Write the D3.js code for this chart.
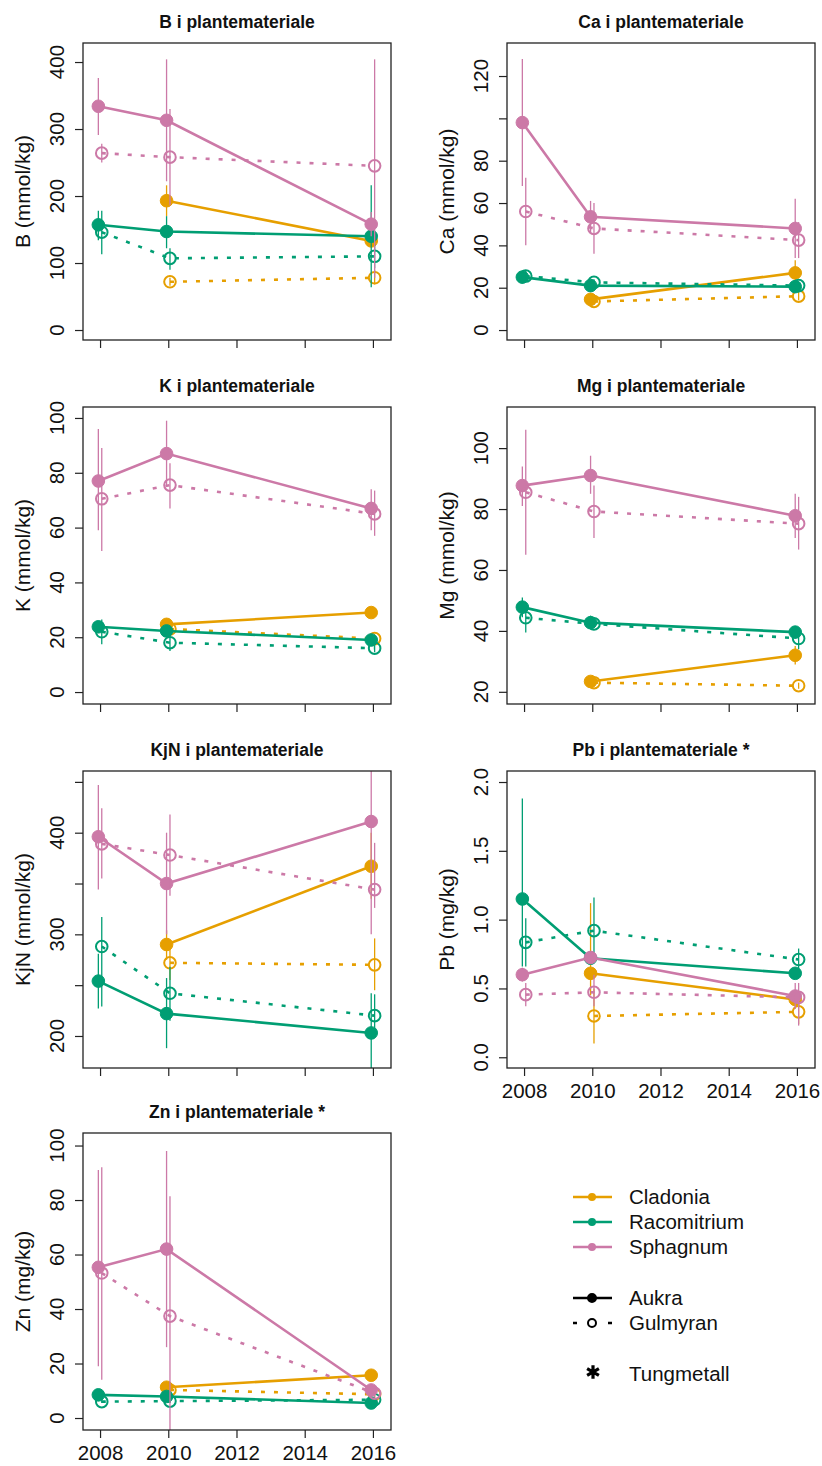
<!DOCTYPE html>
<html><head><meta charset="utf-8">
<script src="https://cdn.jsdelivr.net/npm/d3@7"></script>
<style>
body{margin:0;background:#fff;}
text{font-family:"Liberation Sans",Arial,sans-serif;fill:#111;}
</style>
</head><body>
<svg id="chart" width="822" height="1466"></svg>
<script>
// ---------------- DATA ----------------
const years = [2008, 2010, 2016];
const species = ["Cladonia", "Racomitrium", "Sphagnum"];
const sites = ["Aukra", "Gulmyran"];
const xTickValues = [2008, 2010, 2012, 2014, 2016];
const xTickLabels = ["2008", "2010", "2012", "2014", "2016"];

const panelTitles = ["B i plantemateriale", "Ca i plantemateriale", "K i plantemateriale",
  "Mg i plantemateriale", "KjN i plantemateriale", "Pb i plantemateriale *", "Zn i plantemateriale *"];
const yAxisTitles = ["B (mmol/kg)", "Ca (mmol/kg)", "K (mmol/kg)", "Mg (mmol/kg)",
  "KjN (mmol/kg)", "Pb (mg/kg)", "Zn (mg/kg)"];

const yTicks = [
  [0, 100, 200, 300, 400],
  [0, 20, 40, 60, 80, 100, 120],
  [0, 20, 40, 60, 80, 100],
  [20, 40, 60, 80, 100],
  [200, 250, 300, 350, 400, 450],
  [0, 0.5, 1, 1.5, 2],
  [0, 20, 40, 60, 80, 100]
];
const yTickLabels = [
  ["0", "100", "200", "300", "400"],
  ["0", "20", "40", "60", "80", "", "120"],
  ["0", "20", "40", "60", "80", "100"],
  ["20", "40", "60", "80", "100"],
  ["200", "", "300", "", "400", ""],
  ["0.0", "0.5", "1.0", "1.5", "2.0"],
  ["0", "20", "40", "60", "80", "100"]
];
const yLimits = [[-14.9, 428.4], [-4.7, 135.6], [-4.36, 104], [16, 113.5],
  [168.5, 460.7], [-0.078, 2.08], [-4.4, 104.6]];

// rows: Cladonia-Aukra, Cladonia-Gulmyran, Racomitrium-Aukra, Racomitrium-Gulmyran, Sphagnum-Aukra, Sphagnum-Gulmyran
const B_mean = [[null, 193, 133], [null, 72, 78], [157, 147, 140], [146, 107, 110], [334, 313, 158], [264, 258, 245]];
const B_lo   = [[null, 170, 125], [null, 66, 68], [134, 122, 64], [113, 90, 92], [291, 222, 140], [250, 186, 78]];
const B_hi   = [[null, 216, 141], [null, 78, 90], [178, 170, 216], [178, 122, 128], [376, 404, 176], [278, 330, 404]];

const Ca_mean = [[null, 14.5, 27], [null, 13.5, 16], [25, 21, 20.5], [25.5, 22.5, 21], [98, 53.5, 48], [56, 48, 42.5]];
const Ca_lo   = [[null, 12, 22], [null, 12, 14], [22, 19, 19], [23, 21, 19.5], [68, 46, 34], [40, 36, 34]];
const Ca_hi   = [[null, 17, 33], [null, 15, 18], [28, 23, 22], [28, 24, 22.5], [128, 61, 62], [72, 60, 51]];

const K_mean = [[null, 24.7, 29], [null, 23, 19.5], [23.8, 22.3, 19], [22, 18, 16], [77, 87, 67], [70.5, 75.5, 65]];
const K_lo   = [[null, 23, 28], [null, 21.5, 18], [21.5, 20.5, 17.5], [17.4, 15, 14.5], [59, 75, 59], [51.5, 67, 57]];
const K_hi   = [[null, 26, 30], [null, 24.5, 21], [26, 24, 20.5], [26.5, 21, 17.5], [96, 99, 74], [89, 83.5, 73.5]];

const Mg_mean = [[null, 23.4, 32], [null, 23, 22], [47.8, 42.7, 39.6], [44.3, 42.3, 37.5], [87.7, 91, 77.8], [85.5, 79.2, 75.2]];
const Mg_lo   = [[null, 21.5, 29], [null, 22, 21], [44.5, 40.5, 37.5], [39.5, 41, 34], [81, 85, 70.5], [65, 70.5, 66.7]];
const Mg_hi   = [[null, 25, 35], [null, 24, 23], [51, 45, 41.5], [47, 43.5, 40.5], [94, 97.5, 85], [106, 87.7, 84]];

const KjN_mean = [[null, 290, 367], [null, 272, 270], [254, 222, 203], [288, 242, 220], [396, 350, 411], [389, 378, 344]];
const KjN_lo   = [[null, 275, 335], [null, 255, 245], [227, 188, 165], [229, 215, 199], [344, 300, 300], [355, 338, 326]];
const KjN_hi   = [[null, 304, 400], [null, 289, 296], [281, 257, 242], [317, 268, 241], [447, 400, 522], [424, 418, 390]];

const Pb_mean = [[null, 0.61, 0.42], [null, 0.30, 0.33], [1.15, 0.72, 0.61], [0.835, 0.92, 0.71], [0.60, 0.725, 0.445], [0.455, 0.472, 0.435]];
const Pb_lo   = [[null, 0.45, 0.38], [null, 0.10, 0.24], [0.66, 0.68, 0.58], [0.66, 0.69, 0.63], [0.55, 0.68, 0.35], [0.37, 0.37, 0.23]];
const Pb_hi   = [[null, 1.12, 0.46], [null, 0.50, 0.42], [1.88, 0.76, 0.64], [1.01, 1.16, 0.79], [0.65, 0.77, 0.54], [0.54, 0.60, 0.54]];

const Zn_mean = [[null, 11.3, 15.7], [null, 10.3, 8.7], [8.5, 7.9, 5.5], [6, 6.2, 6.7], [55.3, 62, 10.3], [53.2, 37.4, 9.1]];
const Zn_lo   = [[null, 10, 14.5], [null, 9, 7.5], [7.5, 7, 4.8], [5.5, 5.5, 6], [19, 26, 8], [14, -6.6, 7.5]];
const Zn_hi   = [[null, 12.5, 17], [null, 11.5, 10], [9.5, 8.8, 6.2], [6.8, 7, 7.4], [91, 98, 12.5], [92, 81.4, 10.8]];

const panelMeans = [B_mean, Ca_mean, K_mean, Mg_mean, KjN_mean, Pb_mean, Zn_mean];
const panelLo = [B_lo, Ca_lo, K_lo, Mg_lo, KjN_lo, Pb_lo, Zn_lo];
const panelHi = [B_hi, Ca_hi, K_hi, Mg_hi, KjN_hi, Pb_hi, Zn_hi];
const panelXLabels = [false, false, false, false, false, true, true];

// ---------------- STYLE / LAYOUT ----------------
const speciesColors = ["#E69F00", "#009E73", "#CC79A7"];
const siteOffsets = [-0.05, 0.05];
const colLeft = [83, 507];
const rowTop = [43, 407, 771, 1133];
const boxW = 308, boxH = 297;
const xDomain = [2007.5, 2016.53];

const svg = d3.select("#chart");
const defs = svg.append("defs");

panelTitles.forEach((title, i) => {
  const col = i % 2, row = Math.floor(i / 2);
  const left = colLeft[col], top = rowTop[row];
  const x = d3.scaleLinear().domain(xDomain).range([left, left + boxW]);
  const y = d3.scaleLinear().domain(yLimits[i]).range([top + boxH, top]);
  const g = svg.append("g");

  defs.append("clipPath").attr("id", "clip" + i)
    .append("rect").attr("x", left).attr("y", top).attr("width", boxW).attr("height", boxH);

  // title
  g.append("text").attr("x", left + boxW / 2).attr("y", top - 15)
    .attr("text-anchor", "middle").attr("font-weight", "bold").attr("font-size", 17.5)
    .text(title);

  // y axis
  const yAx = g.append("g").attr("transform", `translate(${left},0)`)
    .call(d3.axisLeft(y).tickValues(yTicks[i]).tickSize(8).tickSizeOuter(0).tickFormat(""));
  yAx.select(".domain").remove();
  yAx.selectAll("line").attr("stroke", "#222").attr("stroke-width", 1.2);
  yTicks[i].forEach((t, k) => {
    g.append("text")
      .attr("transform", `translate(${left - 19},${y(t)}) rotate(-90)`)
      .attr("text-anchor", "middle").attr("font-size", 20.5)
      .text(yTickLabels[i][k]);
  });
  g.append("text")
    .attr("transform", `translate(${left - 53},${top + boxH / 2}) rotate(-90)`)
    .attr("text-anchor", "middle").attr("font-size", 21)
    .text(yAxisTitles[i]);

  // x axis
  const xAx = g.append("g").attr("transform", `translate(0,${top + boxH})`)
    .call(d3.axisBottom(x).tickValues(xTickValues).tickSize(8).tickSizeOuter(0)
      .tickFormat((d, k) => panelXLabels[i] ? xTickLabels[k] : ""));
  xAx.select(".domain").remove();
  xAx.selectAll("line").attr("stroke", "#222").attr("stroke-width", 1.2);
  xAx.selectAll("text").attr("font-size", 20.5).attr("y", 30).attr("dy", 0)
    .attr("font-family", "Liberation Sans, Arial, sans-serif").attr("fill", "#111");

  // series
  const plot = g.append("g").attr("clip-path", `url(#clip${i})`);
  species.forEach((sp, s) => {
    sites.forEach((site, si) => {
      const idx = s * 2 + si;
      const color = speciesColors[s];
      const pts = years.map((yr, j) => ({
        x: yr + siteOffsets[si], v: panelMeans[i][idx][j],
        lo: panelLo[i][idx][j], hi: panelHi[i][idx][j]
      })).filter(d => d.v !== null);

      plot.selectAll(null).data(pts).enter().append("line")
        .attr("x1", d => x(d.x)).attr("x2", d => x(d.x))
        .attr("y1", d => y(d.lo)).attr("y2", d => y(d.hi))
        .attr("stroke", color).attr("stroke-width", 1.3);

      plot.append("path").datum(pts)
        .attr("d", d3.line().x(d => x(d.x)).y(d => y(d.v)))
        .attr("fill", "none").attr("stroke", color).attr("stroke-width", 2.6)
        .attr("stroke-dasharray", si === 1 ? "4,9" : null);

      plot.selectAll(null).data(pts).enter().append("circle")
        .attr("cx", d => x(d.x)).attr("cy", d => y(d.v))
        .attr("r", si === 0 ? 6.3 : 5.8)
        .attr("fill", si === 0 ? color : "none")
        .attr("stroke", color).attr("stroke-width", si === 0 ? 1 : 2);
    });
  });

  // frame
  g.append("rect").attr("x", left).attr("y", top).attr("width", boxW).attr("height", boxH)
    .attr("fill", "none").attr("stroke", "#222").attr("stroke-width", 1.3);
});

// ---------------- LEGEND ----------------
const legend = svg.append("g");
const lx1 = 573, lx2 = 612, lxm = 592, ltx = 629;
const speciesRowsY = [1197, 1222, 1247];
species.forEach((sp, s) => {
  const cy = speciesRowsY[s];
  legend.append("line").attr("x1", lx1).attr("x2", lx2).attr("y1", cy).attr("y2", cy)
    .attr("stroke", speciesColors[s]).attr("stroke-width", 2.6);
  legend.append("circle").attr("cx", lxm).attr("cy", cy).attr("r", 4).attr("fill", speciesColors[s]);
  legend.append("text").attr("x", ltx).attr("y", cy + 7).attr("font-size", 20.5).text(sp);
});
const siteRowsY = [1298, 1323];
sites.forEach((site, si) => {
  const cy = siteRowsY[si];
  legend.append("line").attr("x1", lx1).attr("x2", lx2).attr("y1", cy).attr("y2", cy)
    .attr("stroke", "#000").attr("stroke-width", 2.6)
    .attr("stroke-dasharray", si === 1 ? "4,31" : null);
  legend.append("circle").attr("cx", lxm).attr("cy", cy).attr("r", 4)
    .attr("fill", si === 0 ? "#000" : "none").attr("stroke", "#000").attr("stroke-width", 2);
  legend.append("text").attr("x", ltx).attr("y", cy + 7).attr("font-size", 20.5).text(site);
});
legend.append("path").attr("transform", `translate(${lxm + 1},1372)`)
  .attr("d", d3.symbol(d3.symbolAsterisk, 130)())
  .attr("fill", "none").attr("stroke", "#000").attr("stroke-width", 3.2);
legend.append("text").attr("x", ltx).attr("y", 1381).attr("font-size", 20.5).text("Tungmetall");
</script>
</body></html>
